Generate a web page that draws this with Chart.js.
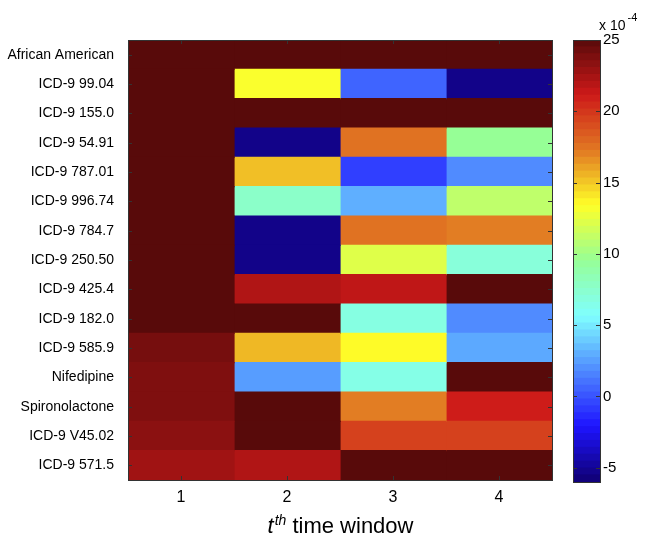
<!DOCTYPE html>
<html><head><meta charset="utf-8">
<script src="https://cdn.jsdelivr.net/npm/chart.js@4/dist/chart.umd.min.js"></script>
<style>
html,body{margin:0;padding:0;background:#fff;}
#wrap{position:relative;width:649px;height:541px;overflow:hidden;}
#main{position:absolute;left:0;top:0;}
#cbar{position:absolute;left:560px;top:0;}
</style></head><body>
<div id="wrap"><canvas id="main" width="649" height="541"></canvas><canvas id="cbar" width="89" height="541"></canvas></div>
<script>
// ---- data ----
const rowLabels = ['African American','ICD-9 99.04','ICD-9 155.0','ICD-9 54.91','ICD-9 787.01','ICD-9 996.74','ICD-9 784.7','ICD-9 250.50','ICD-9 425.4','ICD-9 182.0','ICD-9 585.9','Nifedipine','Spironolactone','ICD-9 V45.02','ICD-9 571.5'];
const timeWindows = ['1','2','3','4'];
// values in units of 1e-4
const window1 = [25, 25, 25, 25, 25, 25, 25, 25, 25, 25, 24.0, 23.7, 23.7, 23.3, 22.6];
const window2 = [25, 13.2, 25, -5.4, 15.2, 7.6, -5.4, -5.4, 22.1, 25, 15.4, 2.4, 25, 25, 22.1];
const window3 = [25, 0.5, 25, 17.5, -0.7, 3.0, 17.5, 12.2, 21.6, 6.7, 13.5, 6.5, 17.1, 19.5, 25];
const window4 = [25, -5.4, 25, 9.5, 1.8, 11.0, 17.1, 7.0, 25, 1.8, 2.8, 25, 21.0, 19.5, 25];
const colorbarTicks = [-5, 0, 5, 10, 15, 20, 25];
const colorMin = -6, colorMax = 25;
const colorLevels = 64;

// ---- colormap (jet-like, as rendered in the figure) ----
const anchors = [
  [0.000, [16, 0, 115]],
  [0.125, [30, 20, 255]],
  [0.375, [128, 255, 255]],
  [0.500, [150, 255, 150]],
  [0.625, [255, 255, 40]],
  [0.750, [225, 120, 35]],
  [0.875, [205, 25, 25]],
  [1.000, [88, 10, 10]]
];
function colormap(v){
  let t = (v - colorMin) / (colorMax - colorMin);
  t = Math.max(0, Math.min(1, t));
  for (let i = 1; i < anchors.length; i++){
    if (t <= anchors[i][0]){
      const [t0,c0] = anchors[i-1], [t1,c1] = anchors[i];
      const f = (t - t0) / (t1 - t0);
      const c = c0.map((a,k)=>Math.round(a + (c1[k]-a)*f));
      return `rgb(${c[0]},${c[1]},${c[2]})`;
    }
  }
  return 'rgb(88,10,10)';
}

Chart.defaults.color = '#000';
Chart.defaults.font.family = '"Liberation Sans", Arial, Helvetica, sans-serif';

const columns = [window1, window2, window3, window4];
const FRAME = '#333';

const mainDecor = {
  id: 'mainDecor',
  afterDraw(chart){
    const {ctx, chartArea:a, scales:{x, y}} = chart;
    ctx.save();
    ctx.strokeStyle = FRAME; ctx.lineWidth = 1;
    ctx.beginPath();
    const L = 4;
    rowLabels.forEach((_, i) => {
      const py = Math.round(y.getPixelForValue(i)) + 0.5;
      ctx.moveTo(a.left, py); ctx.lineTo(a.left + L, py);
      ctx.moveTo(a.right, py); ctx.lineTo(a.right - L, py);
    });
    timeWindows.forEach((_, i) => {
      const px = Math.round(x.getPixelForValue(i + 1)) + 0.5;
      ctx.moveTo(px, a.top); ctx.lineTo(px, a.top + L);
      ctx.moveTo(px, a.bottom); ctx.lineTo(px, a.bottom - L);
    });
    ctx.stroke();
    ctx.strokeRect(Math.round(a.left) + 0.5, Math.round(a.top) + 0.5, Math.round(a.right - a.left), Math.round(a.bottom - a.top));
    // x title with superscript
    const fam = Chart.defaults.font.family;
    const big = 'italic 22px ' + fam, sup = 'italic 14px ' + fam, norm = '22px ' + fam;
    ctx.fillStyle = '#000'; ctx.textBaseline = 'alphabetic';
    ctx.font = big; const w1 = ctx.measureText('t').width;
    ctx.font = sup; const w2 = ctx.measureText('th').width;
    ctx.font = norm; const w3 = ctx.measureText(' time window').width;
    let sx = (a.left + a.right) / 2 - (w1 + w2 + w3) / 2;
    const by = 533;
    ctx.font = big; ctx.textAlign = 'left'; ctx.fillText('t', sx, by); sx += w1 + 1;
    ctx.font = sup; ctx.fillText('th', sx, by - 8); sx += w2;
    ctx.font = norm; ctx.fillText(' time window', sx, by);
    ctx.restore();
  }
};

new Chart(document.getElementById('main'), {
  type: 'bar',
  data: {
    labels: rowLabels,
    datasets: columns.map((vals, c) => ({
      label: timeWindows[c],
      data: vals.map(() => [c + 0.5, c + 1.5]),
      backgroundColor: vals.map(colormap),
      borderWidth: 0,
      grouped: false,
      barPercentage: 1,
      categoryPercentage: 1,
      inflateAmount: 0.6
    }))
  },
  options: {
    indexAxis: 'y',
    responsive: false,
    animation: false,
    layout: { padding: { left: 0, top: 40, right: 97, bottom: 0 } },
    plugins: { legend: { display: false }, tooltip: { enabled: false }, title: { display: false } },
    scales: {
      x: {
        type: 'linear', min: 0.5, max: 4.5,
        afterBuildTicks: s => { s.ticks = timeWindows.map((_, i) => ({ value: i + 1 })); },
        afterFit: s => { s.height = 61; },
        ticks: { callback: v => timeWindows[v - 1], font: { size: 16 }, padding: 8, maxRotation: 0 },
        grid: { display: false, drawTicks: false },
        border: { display: false }
      },
      y: {
        type: 'category',
        afterFit: s => { s.width = 128; },
        ticks: { font: { size: 14 }, padding: 14, autoSkip: false },
        grid: { display: false, drawTicks: false },
        border: { display: false }
      }
    }
  },
  plugins: [mainDecor]
});

// ---- colorbar ----
const levelEdges = Array.from({length: colorLevels}, (_, k) => [
  colorMin + k * (colorMax - colorMin) / colorLevels,
  colorMin + (k + 1) * (colorMax - colorMin) / colorLevels
]);

const cbarDecor = {
  id: 'cbarDecor',
  afterDraw(chart){
    const {ctx, chartArea:a, scales:{y}} = chart;
    ctx.save();
    ctx.strokeStyle = FRAME; ctx.lineWidth = 1;
    ctx.beginPath();
    const L = 4;
    colorbarTicks.forEach(t => {
      const py = Math.round(y.getPixelForValue(t)) + 0.5;
      ctx.moveTo(a.left, py); ctx.lineTo(a.left + L, py);
      ctx.moveTo(a.right, py); ctx.lineTo(a.right - L, py);
    });
    ctx.stroke();
    ctx.strokeRect(Math.round(a.left) + 0.5, Math.round(a.top) + 0.5, Math.round(a.right - a.left), Math.round(a.bottom - a.top));
    const fam = Chart.defaults.font.family;
    ctx.fillStyle = '#000'; ctx.textAlign = 'left'; ctx.textBaseline = 'alphabetic';
    ctx.font = '14px ' + fam;
    ctx.fillText('x 10', 39, 30);
    const w = ctx.measureText('x 10').width;
    ctx.font = '11px ' + fam;
    ctx.fillText('-4', 39 + w + 2, 21);
    ctx.restore();
  }
};

new Chart(document.getElementById('cbar'), {
  type: 'bar',
  data: {
    labels: ['c'],
    datasets: levelEdges.map(e => ({
      data: [e],
      backgroundColor: colormap((e[0] + e[1]) / 2),
      borderWidth: 0,
      grouped: false,
      barPercentage: 1,
      categoryPercentage: 1,
      inflateAmount: 0.6
    }))
  },
  options: {
    responsive: false,
    animation: false,
    layout: { padding: { left: 13, top: 40, right: 0, bottom: 59 } },
    plugins: { legend: { display: false }, tooltip: { enabled: false } },
    scales: {
      x: { display: false },
      y: {
        type: 'linear', position: 'right', min: colorMin, max: colorMax,
        afterBuildTicks: s => { s.ticks = colorbarTicks.map(v => ({ value: v })); },
        afterFit: s => { s.width = 49; },
        ticks: { font: { size: 15 }, padding: 3 },
        grid: { display: false, drawTicks: false },
        border: { display: false }
      }
    }
  },
  plugins: [cbarDecor]
});
</script>
</body></html>
